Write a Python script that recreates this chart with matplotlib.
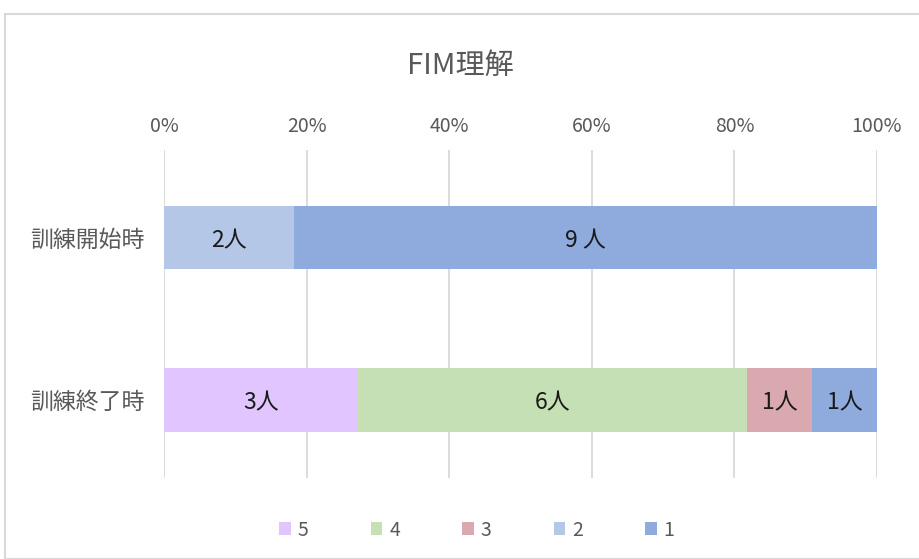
import matplotlib
matplotlib.use("Agg")
import matplotlib.pyplot as plt
from matplotlib.patches import Rectangle
import numpy as np

plt.rcParams['font.family'] = ['Noto Sans CJK JP', 'DejaVu Sans']

categories = ['訓練開始時', '訓練終了時']
series_names = ['5', '4', '3', '2', '1']
counts = {
    '5': [0, 3],
    '4': [0, 6],
    '3': [0, 1],
    '2': [2, 0],
    '1': [9, 1],
}
label_text = {
    ('1', 0): '9 人',
}
colors = ['#E0C5FF', '#C5E0B4', '#D9A9AF', '#B4C7E7', '#8FAADC']
title = 'FIM理解'

fig = plt.figure(figsize=(9.2, 5.59), dpi=100)
ax = fig.add_axes([164/920, 1-478/559, (877-164)/920, (478-150)/559])

totals = np.sum([counts[s] for s in series_names], axis=0)
y = np.arange(len(categories))
left = np.zeros(len(categories))
for name, col in zip(series_names, colors):
    vals = np.array(counts[name], dtype=float)
    pct = vals / totals * 100
    ax.barh(y, pct, left=left, height=0.39, color=col, label=name, zorder=3)
    for i, (v, p) in enumerate(zip(vals, pct)):
        if v > 0:
            txt = label_text.get((name, i), f'{int(v)}人')
            ax.text(left[i] + p/2, y[i] + 0.02, txt, ha='center', va='center',
                    fontsize=16.5, color='#1a1a1a', zorder=4)
    left += pct

ax.set_xlim(0, 100)
ax.set_ylim(1.48, -0.538)
ax.set_yticks(y)
ax.set_yticklabels(categories, fontsize=16.5, color='#595959')
ax.set_xticks(np.arange(0, 101, 20))
ax.set_xticklabels([f'{v}%' for v in range(0, 101, 20)], fontsize=14, color='#595959')
ax.xaxis.tick_top()
ax.tick_params(axis='x', length=0, pad=9)
ax.tick_params(axis='y', length=0, pad=14)
ax.grid(axis='x', color='#D9D9D9', linewidth=1.3, zorder=0)
for sp in ax.spines.values():
    sp.set_visible(False)

fig.text(0.5, 1-66/559, title, ha='center', va='center', fontsize=21, color='#595959')

handles, labels = ax.get_legend_handles_labels()
fig.legend(handles, labels, loc='center', bbox_to_anchor=(477/920, 1-530/559), ncol=5,
           frameon=False, fontsize=14, labelcolor='#595959', handlelength=0.6,
           handleheight=0.6, handletextpad=0.35, columnspacing=3.2)

fig.patches.append(Rectangle((5/920, 0), 1.2, 1-14/559, transform=fig.transFigure,
                             fill=False, edgecolor='#D9D9D9', linewidth=1.5))

fig.savefig('out.png', dpi=100)
